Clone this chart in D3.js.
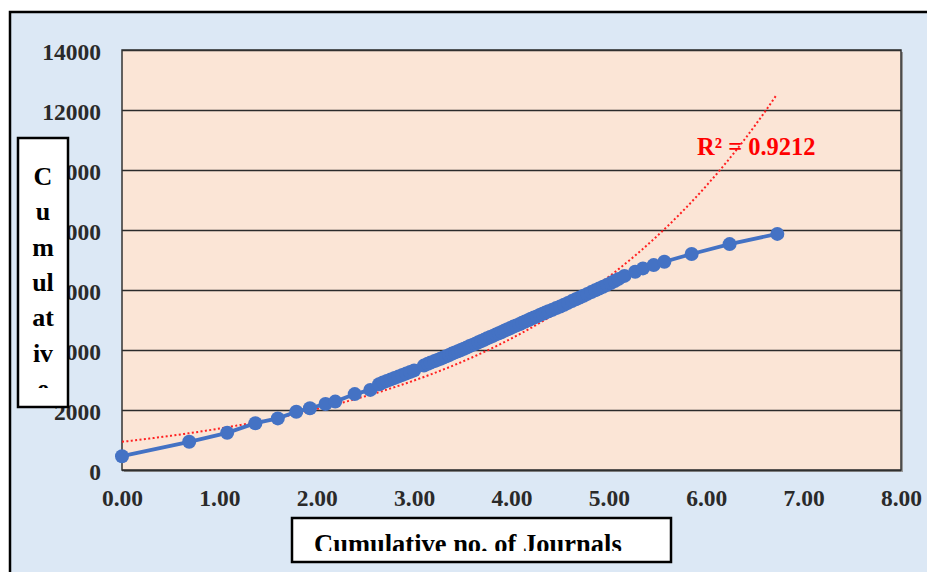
<!DOCTYPE html>
<html><head><meta charset="utf-8">
<script src="https://cdn.jsdelivr.net/npm/d3@7"></script>
<style>
html,body{margin:0;padding:0;background:#fff;}
svg{display:block;}
</style></head>
<body>
<script>
// ---- data ----
const xValues = [0, 0.69, 1.08, 1.37, 1.60, 1.79, 1.93, 2.09, 2.19, 2.39, 2.55,
  2.64, 2.68, 2.72, 2.76, 2.80, 2.84, 2.88, 2.92, 2.96, 3.00,
  3.10, 3.14, 3.17, 3.21, 3.24, 3.27, 3.30, 3.33, 3.36, 3.39, 3.42, 3.45, 3.48, 3.51, 3.54, 3.57,
  3.60, 3.63, 3.66, 3.69, 3.72, 3.75, 3.78, 3.81, 3.84, 3.87, 3.90, 3.93, 3.96, 3.99,
  4.02, 4.05, 4.08, 4.11, 4.14, 4.17, 4.20, 4.23, 4.26, 4.29, 4.32, 4.35, 4.38, 4.42, 4.46,
  4.50, 4.54, 4.58, 4.62, 4.66, 4.70, 4.74, 4.78, 4.82, 4.86, 4.90, 4.94, 4.98, 5.02, 5.06, 5.10,
  5.16, 5.27, 5.35, 5.46, 5.57, 5.85, 6.24, 6.73];
const yValues = [460, 940, 1240, 1560, 1720, 1940, 2060, 2200, 2280, 2530, 2670,
  2860, 2920, 2970, 3020, 3070, 3120, 3170, 3220, 3270, 3320,
  3480, 3540, 3580, 3630, 3670, 3710, 3750, 3790, 3830, 3880, 3920, 3960, 4000, 4040, 4080, 4130,
  4170, 4210, 4260, 4300, 4340, 4390, 4430, 4470, 4520, 4560, 4600, 4650, 4690, 4730,
  4780, 4820, 4860, 4910, 4950, 4990, 5040, 5080, 5120, 5170, 5210, 5250, 5290, 5340, 5400,
  5450, 5510, 5570, 5630, 5690, 5750, 5810, 5870, 5930, 5990, 6050, 6110, 6170, 6230, 6300, 6370,
  6470, 6610, 6720, 6830, 6940, 7200, 7530, 7870];
const yTicks = [0, 2000, 4000, 6000, 8000, 10000, 12000, 14000];
const xTicks = [0, 1, 2, 3, 4, 5, 6, 7, 8];
// exponential trendline y = a * e^(b x)
const trendA = 940, trendB = 0.385;
const rSquaredLabel = "R² = 0.9212";
const xTitle = "Cumulative no. of Journals";
const yTitleLines = ["C", "u", "m", "ul", "at", "iv", "e", "no.", "of", "Ar"];

const W = 927, H = 572;
const plot = {l: 122, r: 901, t: 50, b: 470};
const svg = d3.select("body").append("svg").attr("width", W).attr("height", H);

// outer chart background & border
svg.append("rect").attr("x", 10).attr("y", 12).attr("width", W + 20).attr("height", H + 20)
  .attr("fill", "#dce8f5").attr("stroke", "#000").attr("stroke-width", 2.5);

const x = d3.scaleLinear().domain([0, 8]).range([plot.l, plot.r]);
const y = d3.scaleLinear().domain([0, 14000]).range([plot.b, plot.t]);

// plot area shadow + fill
svg.append("rect").attr("x", plot.l + 2).attr("y", plot.t + 2)
  .attr("width", plot.r - plot.l).attr("height", plot.b - plot.t).attr("fill", "#9a9a9a");
svg.append("rect").attr("x", plot.l).attr("y", plot.t)
  .attr("width", plot.r - plot.l).attr("height", plot.b - plot.t).attr("fill", "#fbe5d6");

// gridlines
const grid = svg.append("g").attr("transform", `translate(${plot.l},0)`)
  .call(d3.axisLeft(y).tickValues(yTicks).tickSize(-(plot.r - plot.l)).tickFormat(""));
grid.select(".domain").remove();
grid.selectAll("line").attr("stroke", "#2b2b2b").attr("stroke-width", 1.4);

// plot border
svg.append("rect").attr("x", plot.l).attr("y", plot.t)
  .attr("width", plot.r - plot.l).attr("height", plot.b - plot.t)
  .attr("fill", "none").attr("stroke", "#333").attr("stroke-width", 1.5);

const font = "'Liberation Serif','Times New Roman',serif";

// y axis labels
const ya = svg.append("g").attr("transform", `translate(${plot.l},0)`)
  .call(d3.axisLeft(y).tickValues(yTicks).tickSize(0).tickPadding(21).tickFormat(d3.format("d")));
ya.select(".domain").remove();
ya.selectAll("text").attr("dy", "0.42em").attr("font-family", font).attr("font-weight", "bold")
  .attr("font-size", 23.5).attr("fill", "#2a2a2a");

// x axis labels
const xa = svg.append("g").attr("transform", `translate(0,${plot.b})`)
  .call(d3.axisBottom(x).tickValues(xTicks).tickSize(0).tickFormat(d3.format(".2f")));
xa.select(".domain").remove();
xa.selectAll("text").attr("y", 36).attr("dy", 0).attr("font-family", font).attr("font-weight", "bold")
  .attr("font-size", 23.5).attr("fill", "#2a2a2a");

// trendline
const trendPts = d3.range(0, 6.73 + 1e-9, 0.02).map(v => [v, trendA * Math.exp(trendB * v)]);
svg.append("path").datum(trendPts)
  .attr("d", d3.line().x(d => x(d[0])).y(d => y(d[1])))
  .attr("fill", "none").attr("stroke", "#ff2020").attr("stroke-width", 2)
  .attr("stroke-dasharray", "2 2.4");

// series
const data = xValues.map((v, i) => [v, yValues[i]]);
svg.append("path").datum(data)
  .attr("d", d3.line().x(d => x(d[0])).y(d => y(d[1])))
  .attr("fill", "none").attr("stroke", "#4472c4").attr("stroke-width", 3.8);
svg.append("g").selectAll("circle").data(data).join("circle")
  .attr("cx", d => x(d[0])).attr("cy", d => y(d[1])).attr("r", 7).attr("fill", "#4472c4");

// R² label
svg.append("text").attr("x", 697).attr("y", 155).text(rSquaredLabel)
  .attr("font-family", font).attr("font-weight", "bold").attr("font-size", 24.5).attr("fill", "#ff0000");

// y title box
const defs = svg.append("defs");
defs.append("clipPath").attr("id", "yclip").append("rect").attr("x", 19).attr("y", 139).attr("width", 48).attr("height", 249);
defs.append("clipPath").attr("id", "xclip").append("rect").attr("x", 293).attr("y", 519).attr("width", 377).attr("height", 32);
svg.append("rect").attr("x", 18).attr("y", 138).attr("width", 50).attr("height", 269)
  .attr("fill", "#fff").attr("stroke", "#000").attr("stroke-width", 2.5);
const yt = svg.append("g").attr("clip-path", "url(#yclip)");
yt.selectAll("text").data(yTitleLines).join("text")
  .attr("x", 43).attr("y", (d, i) => 185 + i * 35.3).attr("text-anchor", "middle")
  .attr("font-family", font).attr("font-weight", "bold").attr("font-size", 26).attr("fill", "#000")
  .text(d => d);

// x title box
svg.append("rect").attr("x", 292).attr("y", 518).attr("width", 379).attr("height", 44)
  .attr("fill", "#fff").attr("stroke", "#000").attr("stroke-width", 2.5);
svg.append("g").attr("clip-path", "url(#xclip)").append("text")
  .attr("x", 314).attr("y", 553).text(xTitle)
  .attr("font-family", font).attr("font-weight", "bold").attr("font-size", 26.5).attr("fill", "#000");
</script>
</body></html>
